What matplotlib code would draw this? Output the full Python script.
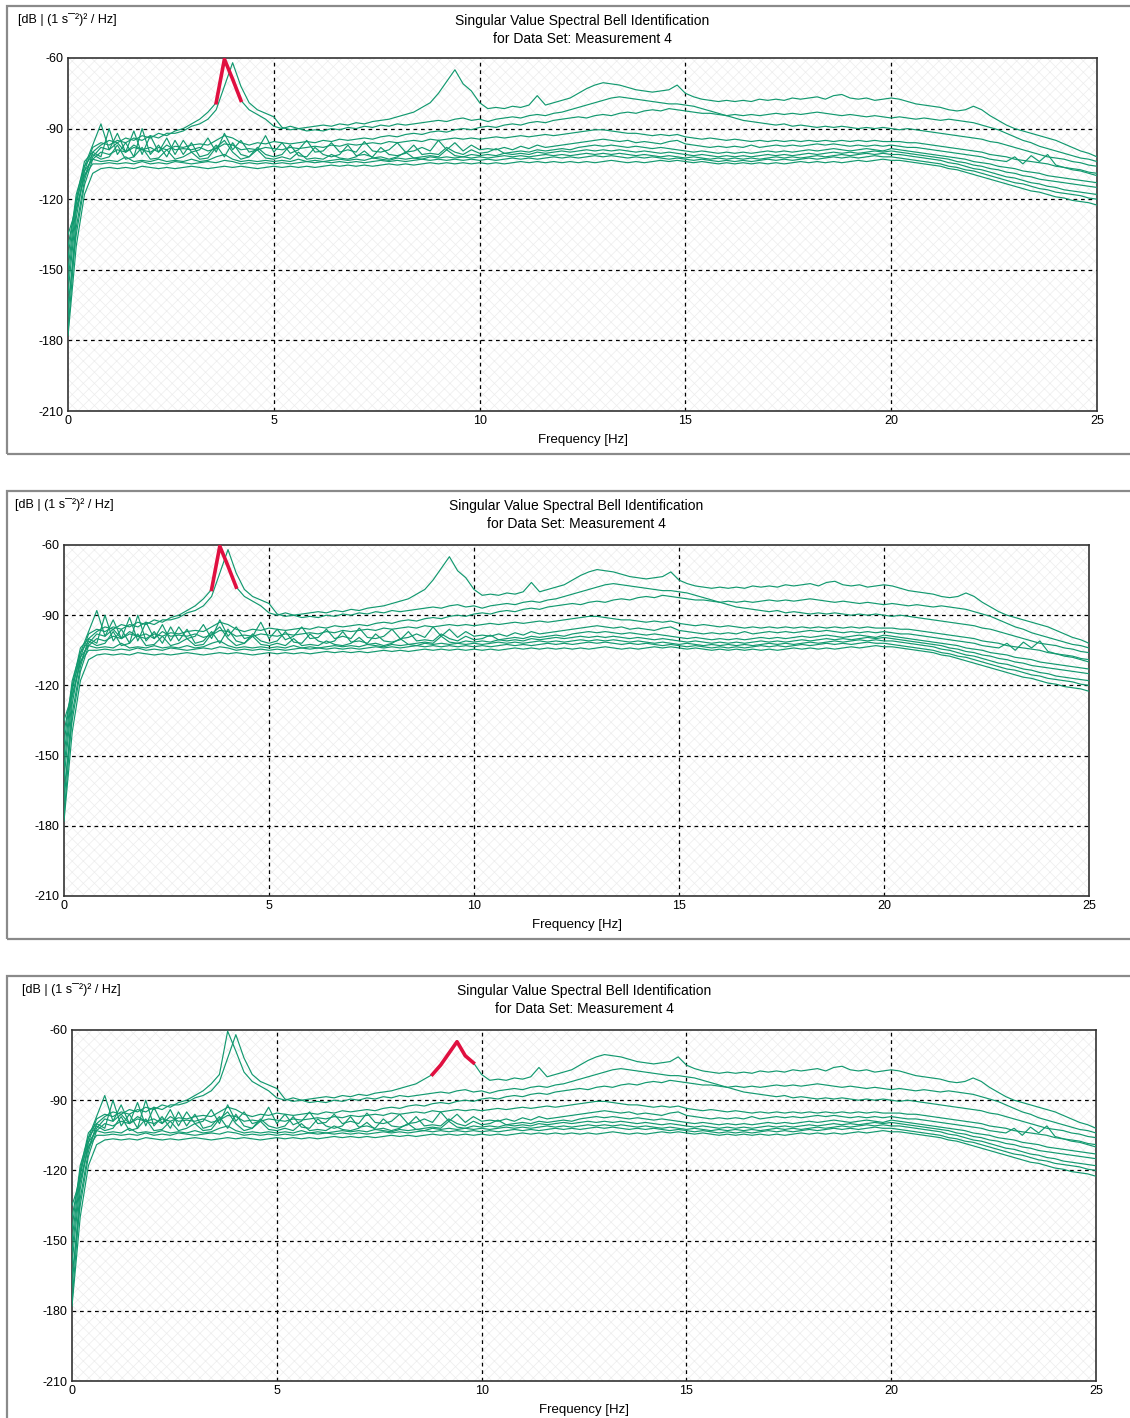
import numpy as np
import matplotlib
matplotlib.use("Agg")
import matplotlib.pyplot as plt
from matplotlib.patches import Rectangle

plt.rcParams['font.family'] = ['Liberation Sans', 'DejaVu Sans']
plt.rcParams['hatch.linewidth'] = 0.5

# frequency axis of the singular value spectra, 0.2 Hz resolution
freq = np.round(np.arange(0, 126) * 0.2, 1)

# singular value spectra [dB], one row of 25 values per 5 Hz + last point
sv1 = [-176, -132, -112, -100, -97, -95, -96, -94, -95, -93, -94, -92, -93, -91, -90, -88, -86, -83, -79, -60.5, -69, -78, -82, -84, -86,
       -89, -90, -89, -90, -89.5, -89, -88.5, -89, -88, -88.5, -87.5, -88, -87, -86.5, -86, -85, -84, -83, -81, -79, -75, -70, -65, -71, -74,
       -79, -81.5, -81, -81.5, -80.5, -81, -80, -76, -80, -79, -78, -77, -75, -73, -71.5, -70.5, -71, -71.5, -72.5, -73.5, -74, -74.5, -74, -73.5, -71.5,
       -75, -76.5, -77.5, -78, -78.5, -78, -78.5, -78, -78.5, -77.5, -78, -77.5, -78, -77, -77.5, -77, -76.5, -77.5, -76, -75.5, -77, -77.5, -77, -78, -77.5,
       -77, -77.5, -78.5, -79.5, -80, -80.5, -81, -82, -82.5, -82, -80.5, -82, -84.5, -86.5, -88.5, -90, -91, -92, -93, -94, -95, -96.5, -98, -99.5, -100.5,
       -102]
sv2 = [-170, -128, -108, -98, -96, -97, -95, -96, -94, -95, -93, -94, -92, -92, -91, -89, -88, -86, -82, -72, -62, -72, -79, -82, -83.5,
       -85, -89.5, -90.5, -90, -91, -90.5, -91, -90, -90.5, -89.5, -90, -89, -89.5, -88.5, -89, -88, -88.5, -88, -87.5, -87, -86.5, -87, -86, -85.5, -86.5,
       -86, -87, -86, -85.5, -85, -85.5, -84.5, -84, -84.5, -83.5, -83, -82, -81, -80, -79, -78, -77, -76.5, -77, -77.5, -78, -78.5, -79, -79.5, -79.5,
       -80, -80.5, -81.5, -82.5, -83.5, -84.5, -85.5, -86.5, -87, -87.5, -88, -88.5, -88, -89, -88.5, -89, -89.5, -89, -89.5, -89, -89.5, -90, -89.5, -90, -89.5,
       -90, -90.5, -90, -90.5, -91, -91.5, -92, -92.5, -93, -93.5, -94, -94.5, -95.5, -96, -97, -98, -99, -100, -101, -102, -102.5, -103, -104, -104.5, -105.5,
       -106]
sv3 = [-165, -135, -114, -103, -100, -101, -99, -100, -98, -99, -100, -98, -99, -97.5, -98, -97, -96.5, -97, -95, -93, -94, -96, -97, -96, -96.5,
       -95.5, -96, -96.5, -96, -95.5, -96, -95, -95.5, -94.5, -95, -94.5, -94, -94.5, -93.5, -93, -93.5, -92.5, -92, -92.5, -91.5, -91, -91.5, -90.5, -90, -90.5,
       -89.5, -89, -89.5, -88.5, -88, -88.5, -87.5, -87, -87.5, -86.5, -86, -85.5, -85, -85.5, -84.5, -84, -84.5, -83.5, -83, -83.5, -82.5, -82, -82.5, -81.5, -82,
       -82.5, -83, -83.5, -83.5, -84, -84.5, -84, -84.5, -84, -84.5, -84, -83.5, -84, -83.5, -84, -83.5, -83, -83.5, -84, -84.5, -84, -84.5, -85, -84.5, -85,
       -85.5, -85, -85.5, -86, -85.5, -86, -86.5, -86, -86.5, -87, -87.5, -88.5, -89.5, -90.5, -92, -93.5, -95, -96, -97.5, -98.5, -99.5, -100.5, -101.5, -102.5, -103,
       -104]
sv4 = [-160, -125, -110, -102, -98, -99, -96, -100, -97, -99, -98, -100, -97, -99, -98.5, -99, -98, -99.5, -98.5, -96.5, -97, -99, -98.5, -99, -98,
       -98.5, -99, -98, -98.5, -98, -97.5, -98, -97, -97.5, -96.5, -97, -96.5, -96, -96.5, -95.5, -96, -95.5, -95, -95.5, -94.5, -95, -94.5, -94, -94.5, -94,
       -94.5, -94, -93.5, -94, -93.5, -93, -93.5, -93, -92.5, -93, -92.5, -92, -91.5, -91, -90.5, -90.5, -91, -91.5, -92, -92, -92.5, -93, -92.5, -93, -92.5,
       -93.5, -94, -94.5, -94, -94.5, -95, -94.5, -95, -95.5, -95, -95.5, -95, -95.5, -95, -95.5, -95, -95.5, -95, -95.5, -95, -95.5, -95, -95.5, -95, -95.5,
       -95.5, -95.5, -96, -96, -96.5, -97, -97.5, -98, -98.5, -99, -99.5, -100, -101, -101.5, -102, -103, -103.5, -104, -104.5, -105, -106, -106.5, -107, -107.5, -108.5,
       -109]
sv5 = [-155, -122, -106, -97, -88, -99, -92, -100, -91, -101, -93, -100, -94, -101, -95, -100, -99, -94, -100, -92, -99, -95, -100, -99, -93,
       -100, -96, -100.5, -99, -95, -100, -99.5, -96, -100, -99, -100, -95.5, -99.5, -100, -99, -96, -100, -99.5, -98, -99.5, -95, -99, -96, -99.5, -97,
       -99, -98.5, -99, -98, -99, -97.5, -98.5, -97, -98, -97.5, -97, -96.5, -96, -95.5, -95, -94.5, -95, -95.5, -95, -96, -95.5, -96, -96.5, -95.5, -95,
       -96.5, -97, -97.5, -98, -97.5, -98, -97.5, -98, -97, -98, -97.5, -97, -97.5, -97, -97.5, -97, -96.5, -97, -96.5, -97, -97.5, -97, -97.5, -97, -97.5,
       -97, -97.5, -98, -98, -98.5, -99, -99.5, -100, -100.5, -101, -101.5, -102, -103, -103.5, -104, -102, -105, -101.5, -104, -101, -105.5, -106.5, -107.5, -108, -109,
       -110]
sv6 = [-150, -120, -104, -100, -102, -90, -101, -96, -102, -90, -101, -97, -102, -95, -101, -96, -102, -101, -97, -102, -96, -101, -102, -98, -101,
       -102, -101, -97, -101.5, -102, -98, -101, -102, -101, -97, -101.5, -101, -102, -98, -101, -101.5, -100.5, -97, -101, -100.5, -101, -98, -100, -101, -99,
       -100.5, -100, -98.5, -100.5, -100, -99.5, -100, -99, -99.5, -99, -98.5, -99, -98, -97.5, -97, -97.5, -97, -97.5, -98, -97.5, -98, -98.5, -98, -98.5, -99,
       -99.5, -100, -99.5, -100, -100.5, -100, -100.5, -100, -100.5, -100, -99.5, -100, -99.5, -100, -99.5, -99, -99.5, -99, -98.5, -99, -99.5, -99, -98.5, -99, -99.5,
       -98.5, -99, -99.5, -100, -100.5, -101, -101.5, -102, -102.5, -103, -104, -104.5, -105, -106, -106.5, -107, -108, -108.5, -109, -110, -110.5, -111, -111.5, -112, -112.5,
       -113]
sv7 = [-145, -118, -106, -101, -103, -102, -97, -103, -102, -98, -103, -102.5, -99, -103, -102, -100, -103, -102.5, -98, -95, -100, -103, -102, -99, -102.5,
       -103, -102, -103, -100, -103, -102.5, -103, -101, -102.5, -103, -102, -99.5, -102.5, -102, -103, -102, -100, -102.5, -102, -101.5, -102, -99, -101.5, -102, -101,
       -101.5, -101, -101.5, -100.5, -101, -100.5, -101, -100, -100.5, -100, -99.5, -100, -99.5, -99, -99.5, -99, -99.5, -99, -99.5, -100, -99.5, -100, -100.5, -100, -100.5,
       -101, -101.5, -101, -101.5, -102, -101.5, -102, -101.5, -102, -101.5, -101, -101.5, -101, -101.5, -101, -100.5, -101, -100.5, -100, -100.5, -100, -100.5, -100, -99.5, -100,
       -99.5, -100, -100.5, -101, -101.5, -102, -102.5, -103, -104, -104.5, -105.5, -106, -107, -107.5, -108.5, -109, -110, -110.5, -111.5, -112, -112.5, -113, -113.5, -114, -114.5,
       -115]
sv8 = [-140, -121, -108, -103, -104, -103.5, -104, -102, -104, -103.5, -104, -103, -104, -103.5, -104, -103, -104, -103.5, -102, -101, -103, -104, -103.5, -104, -103.5,
       -104, -103.5, -104, -103, -104, -103.5, -104, -103.5, -103, -103.5, -103, -103.5, -102.5, -103, -103.5, -102.5, -103, -102.5, -103, -102, -102.5, -102, -102.5, -102, -102.5,
       -102, -102.5, -102, -101.5, -102, -101.5, -102, -101.5, -101, -101.5, -101, -101.5, -101, -100.5, -101, -100.5, -101, -100.5, -101, -101.5, -101, -101.5, -102, -101.5, -102,
       -102.5, -102, -102.5, -103, -102.5, -103, -102.5, -103, -102.5, -103, -102.5, -102, -102.5, -102, -102.5, -102, -101.5, -102, -101.5, -101, -101.5, -101, -100.5, -101, -100.5,
       -101, -101, -101.5, -102, -102.5, -103, -103.5, -104.5, -105, -106, -107, -107.5, -108.5, -109.5, -110.5, -111, -112, -113, -113.5, -114.5, -115, -116, -116.5, -117, -117.5,
       -118]
sv9 = [-135, -124, -110, -105, -105, -104.5, -105, -104.5, -105, -104, -105, -104.5, -105, -104, -104.5, -105, -104.5, -104, -104.5, -103.5, -104, -105, -104.5, -105, -104.5,
       -105, -104.5, -105, -104.5, -104, -104.5, -104, -104.5, -104, -104.5, -104, -104.5, -104, -103.5, -104, -103.5, -104, -103.5, -103, -103.5, -103, -103.5, -103, -103.5, -103,
       -103.5, -103, -103.5, -103, -102.5, -103, -102.5, -103, -102.5, -102, -102.5, -102, -102.5, -102, -101.5, -102, -101.5, -102, -102.5, -102, -102.5, -102, -102.5, -103, -102.5,
       -103, -103.5, -103, -103.5, -104, -103.5, -104, -103.5, -104, -103.5, -103, -103.5, -103, -103.5, -103, -102.5, -103, -102.5, -102, -102.5, -102, -102.5, -102, -101.5, -102,
       -102, -102.5, -103, -103.5, -104, -104.5, -105, -106, -106.5, -107.5, -108, -109, -110, -111, -112, -113, -113.5, -114.5, -115.5, -116, -117, -117.5, -118, -118.5, -119.5,
       -120]
sv10 = [-178, -140, -118, -109, -107, -106.5, -107, -106.5, -107, -106, -106.5, -107, -106.5, -107, -106.5, -106, -106.5, -107, -106.5, -106, -106.5, -106, -106.5, -107, -106.5,
        -106, -106.5, -106, -106.5, -106, -106.5, -106, -105.5, -106, -105.5, -106, -105.5, -106, -105.5, -105, -105.5, -105, -105.5, -105, -104.5, -105, -104.5, -105, -104.5, -105,
        -104.5, -105, -104.5, -105, -104.5, -104, -104.5, -104, -104.5, -104, -104.5, -104, -104.5, -104, -104.5, -104, -103.5, -104, -104.5, -104, -104.5, -104, -103.5, -104, -103.5,
        -104, -104.5, -104, -104.5, -105, -104.5, -105, -104.5, -105, -104.5, -105, -104.5, -105, -104.5, -104, -104.5, -104, -104.5, -104, -104.5, -104, -103.5, -104, -103.5, -103,
        -103.5, -103.5, -104, -104.5, -105, -105.5, -106, -107, -107.5, -108.5, -109.5, -110.5, -111.5, -112.5, -113.5, -114.5, -115.5, -116.5, -117, -118, -119, -119.5, -120.5, -121, -121.5,
        -122.5]
spectra = [sv1, sv2, sv3, sv4, sv5, sv6, sv7, sv8, sv9, sv10]

# selected peak (frequency band along the first singular value) per panel
bell_bands = [(3.6, 4.2), (3.6, 4.2), (8.8, 9.8)]

title_1 = "Singular Value Spectral Bell Identification"
title_2 = "for Data Set: Measurement 4"
unit = "[dB | (1 s\u00af\u00b2)\u00b2 / Hz]"
yticks = [-60, -90, -120, -150, -180, -210]
xticks = [0, 5, 10, 15, 20, 25]

W, H = 1130, 1418
fig = plt.figure(figsize=(W / 100, H / 100), dpi=100)

# pixel layout of the three panels: frame top/bottom, axes left/right/top/bottom
panels = [
    dict(frame=(6, 454), ax=(68, 1097, 58, 411), unit_x=18),
    dict(frame=(491, 939), ax=(64, 1089, 545, 896), unit_x=15),
    dict(frame=(976, 1430), ax=(72, 1096, 1030, 1381), unit_x=22),
]

GREEN = '#12996f'
RED = '#e01040'

for p, band in zip(panels, bell_bands):
    ft, fb = p['frame']
    fig.patches.append(Rectangle((7 / W, 1 - fb / H), 1.2, (fb - ft) / H,
                                 transform=fig.transFigure, fill=False,
                                 edgecolor='#8a8a8a', lw=1.6))
    l, r, t, b = p['ax']
    ax = fig.add_axes([l / W, 1 - b / H, (r - l) / W, (b - t) / H])
    ax.set_facecolor('white')
    ax.add_patch(Rectangle((0, 0), 1, 1, transform=ax.transAxes, facecolor='white',
                           edgecolor='#ededed', hatch='xxx', lw=0, zorder=0))
    for s in spectra:
        ax.plot(freq, s, color=GREEN, lw=0.85, zorder=3)
    sel = (freq >= band[0]) & (freq <= band[1])
    ax.plot(freq[sel], np.array(sv1)[sel], color=RED, lw=2.6, zorder=4)
    ax.set_xlim(0, 25)
    ax.set_ylim(-210, -60)
    ax.set_xticks(xticks)
    ax.set_yticks(yticks)
    ax.tick_params(length=0, labelsize=9, pad=3)
    ax.set_xticklabels([str(v) for v in xticks])
    ax.set_yticklabels([str(v) for v in yticks])
    for v in xticks[1:-1]:
        ax.axvline(v, color='black', lw=0.9, ls=(0, (3, 3)), zorder=2)
    for v in yticks[1:-1]:
        ax.axhline(v, color='black', lw=0.9, ls=(0, (3, 3)), zorder=2)
    for sp in ax.spines.values():
        sp.set_color('#333333')
        sp.set_linewidth(1.2)
    cx = (l + r) / 2 / W
    fig.text(cx, 1 - (ft + 15) / H, title_1, ha='center', va='center', fontsize=10)
    fig.text(cx, 1 - (ft + 33) / H, title_2, ha='center', va='center', fontsize=10)
    fig.text(p['unit_x'] / W, 1 - (ft + 14) / H, unit, ha='left', va='center',
             fontsize=9)
    fig.text(cx, 1 - (b + 29) / H, "Frequency [Hz]", ha='center', va='center',
             fontsize=9.5)

fig.savefig("out.png", dpi=100)
